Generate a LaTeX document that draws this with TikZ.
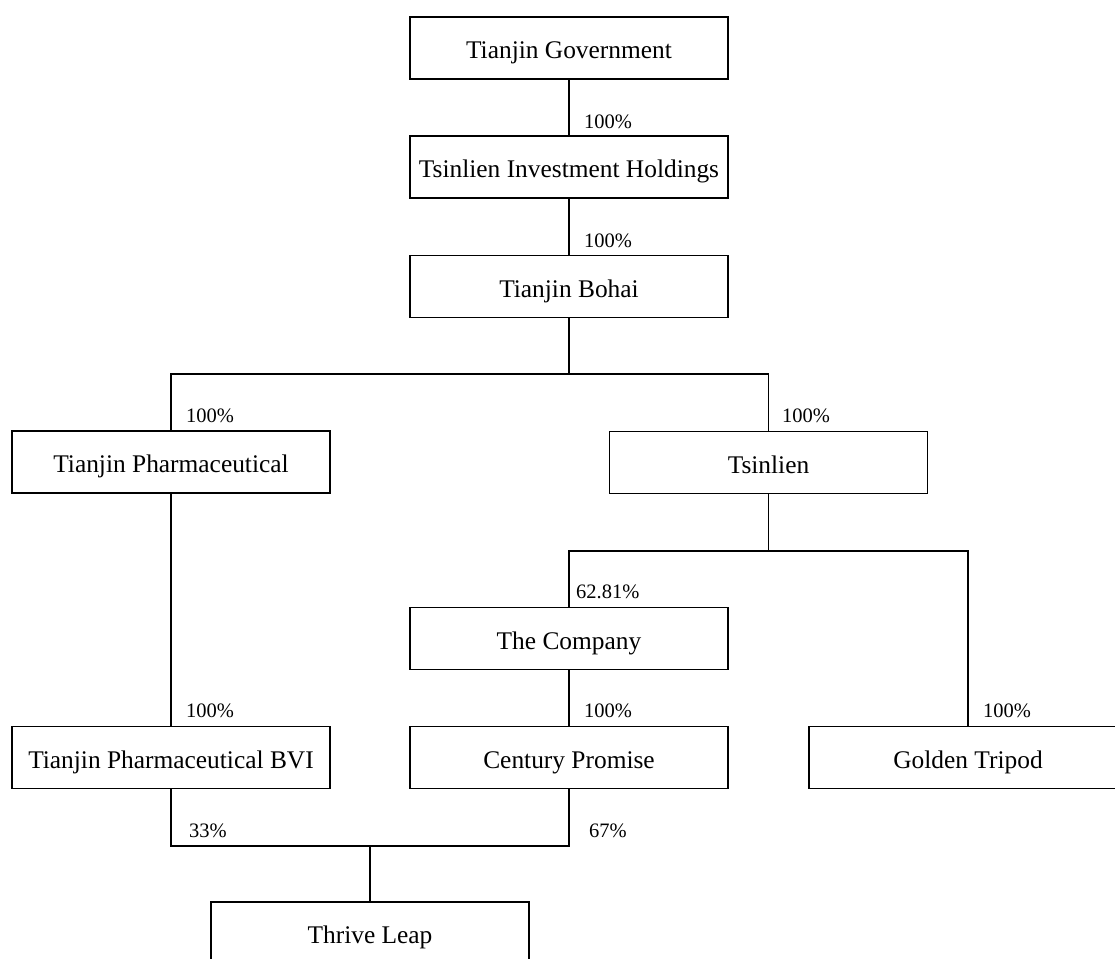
\documentclass[tikz,border=0pt]{standalone}
\usepackage{fontspec}
\setmainfont{Liberation Serif}
\begin{document}
\begin{tikzpicture}[x=1pt,y=-1pt,
  box/.style={draw, line width=1.8pt, minimum width=318pt, minimum height=62pt, inner sep=0pt,
    text height=21pt, text depth=0pt,
    font=\fontsize{25.4}{30}\selectfont},
  pct/.style={anchor=base west, inner sep=0pt, font=\fontsize{20.5}{24}\selectfont},
  conn/.style={line width=1.8pt}]
\useasboundingbox (0,0) rectangle (1115,958);
\clip (0,0) rectangle (1115,958);
% boxes
\node[box] (tg)   at (569,48)    {Tianjin Government};
\node[box] (tih)  at (569,167)   {Tsinlien Investment Holdings};
\node[box] (bh)   at (569,286.5) {Tianjin Bohai};
\node[box] (tp)   at (171,462)   {Tianjin Pharmaceutical};
\node[box] (ts)   at (768.5,462.5) {Tsinlien};
\node[box] (co)   at (569,638.5) {The Company};
\node[box] (bvi)  at (171,757.5) {Tianjin Pharmaceutical BVI};
\node[box] (cp)   at (569,757.5) {Century Promise};
\node[box] (gt)   at (968,757.5) {Golden Tripod};
\node[box] (tl)   at (370,933)   {Thrive Leap};
% junctions
\coordinate (j1) at (569,374);
\coordinate (j2) at (768.5,551);
\coordinate (j3) at (370,846);
% connectors
\draw[conn] (tg.south) -- (tih.north);
\draw[conn] (tih.south) -- (bh.north);
\draw[conn] (bh.south) -- (j1);
\draw[conn] (tp.north) |- (j1) -| (ts.north);
\draw[conn] (tp.south) -- (bvi.north);
\draw[conn] (ts.south) -- (j2);
\draw[conn] (co.north) |- (j2) -| (gt.north);
\draw[conn] (co.south) -- (cp.north);
\draw[conn] (bvi.south) |- (j3) -| (cp.south);
\draw[conn] (j3) -- (tl.north);
% labels
\node[pct] (l1)  at (584,128) {100\%};
\node[pct] (l2)  at (584,247) {100\%};
\node[pct] (l3)  at (186,422) {100\%};
\node[pct] (l4)  at (782,422) {100\%};
\node[pct] (l5)  at (576,598) {62.81\%};
\node[pct] (l6)  at (584,717) {100\%};
\node[pct] (l7)  at (186,717) {100\%};
\node[pct] (l8)  at (983,717) {100\%};
\node[pct] (l9)  at (189,837) {33\%};
\node[pct] (l10) at (589,837) {67\%};
\end{tikzpicture}
\end{document}
